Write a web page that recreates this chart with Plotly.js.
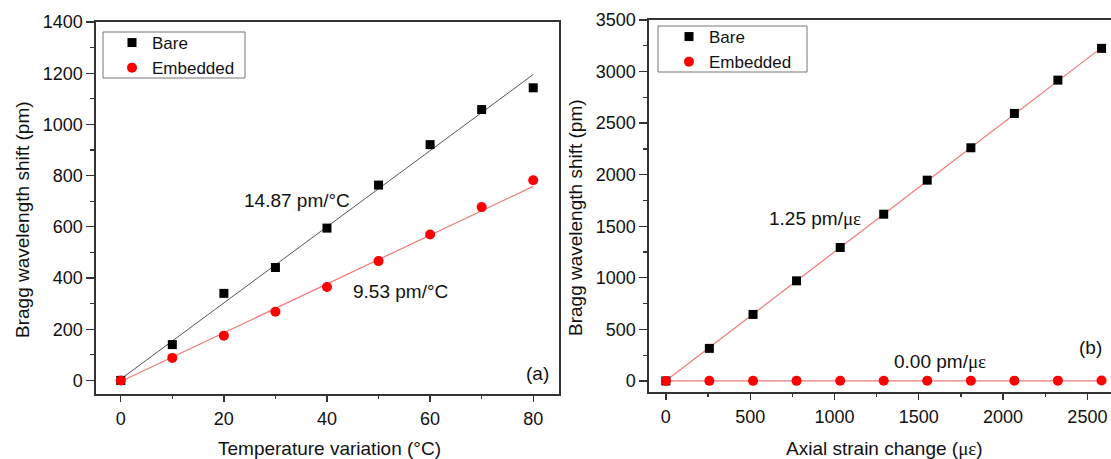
<!DOCTYPE html>
<html>
<head>
<meta charset="utf-8">
<script src="https://cdn.plot.ly/plotly-3.0.1.min.js"></script>
<style>html,body{margin:0;padding:0;background:#fff;}#chart{width:1111px;height:459px;}</style>
</head>
<body>
<div id="chart"></div>
<script>
// ---- Panel (a): temperature ----
const tempX = [0, 10, 20, 30, 40, 50, 60, 70, 80];
const tempBare = [0, 140, 340, 441, 595, 763, 921, 1058, 1143];
const tempEmbedded = [0, 88, 175, 268, 365, 466, 570, 677, 782];
const tempBareFit = {slope: 14.87, intercept: 5.3};
const tempEmbFit = {slope: 9.53, intercept: -4.4};

// ---- Panel (b): strain ----
const strainX = [0, 258, 517, 775, 1034, 1292, 1550, 1809, 2067, 2325, 2584];
const strainBare = [0, 316, 645, 971, 1294, 1617, 1947, 2261, 2594, 2917, 3225];
const strainEmbedded = [0, 1, 1, 1, 2, 2, 2, 3, 3, 3, 4];
const strainBareFit = {slope: 1.25, intercept: 2};
const strainEmbFit = {slope: 0.00, intercept: 1};

const names = ["Bare", "Embedded"];
const sens = ["14.87 pm/°C", "9.53 pm/°C", "1.25 pm/με", "0.00 pm/με"];

const GREEK = '<span style="font-family:\'Liberation Serif\',\'DejaVu Serif\',serif">με</span>';
function fmt(s){ return s.replace('με', GREEK); }

function fitLine(xs, fit){
  const x0 = xs[0], x1 = xs[xs.length-1];
  return {x:[x0,x1], y:[fit.slope*x0+fit.intercept, fit.slope*x1+fit.intercept]};
}

const FONT = "'Liberation Sans', Arial, sans-serif";
const lightRed = '#f07878';
const traces = [];

let f = fitLine(tempX, tempBareFit);
traces.push({x:f.x, y:f.y, mode:'lines', line:{color:'#555', width:1}, showlegend:false, xaxis:'x', yaxis:'y', hoverinfo:'skip'});
f = fitLine(tempX, tempEmbFit);
traces.push({x:f.x, y:f.y, mode:'lines', line:{color:lightRed, width:1.2}, showlegend:false, xaxis:'x', yaxis:'y', hoverinfo:'skip'});
traces.push({x:tempX, y:tempBare, mode:'markers', name:names[0], marker:{symbol:'square', size:9, color:'#000'}, xaxis:'x', yaxis:'y', legend:'legend'});
traces.push({x:tempX, y:tempEmbedded, mode:'markers', name:names[1], marker:{symbol:'circle', size:10, color:'#ff0000'}, xaxis:'x', yaxis:'y', legend:'legend'});

f = fitLine(strainX, strainBareFit);
traces.push({x:f.x, y:f.y, mode:'lines', line:{color:lightRed, width:1.2}, showlegend:false, xaxis:'x2', yaxis:'y2', hoverinfo:'skip'});
f = fitLine(strainX, strainEmbFit);
traces.push({x:f.x, y:f.y, mode:'lines', line:{color:lightRed, width:1.2}, showlegend:false, xaxis:'x2', yaxis:'y2', hoverinfo:'skip'});
traces.push({x:strainX, y:strainBare, mode:'markers', name:names[0], marker:{symbol:'square', size:9, color:'#000'}, xaxis:'x2', yaxis:'y2', legend:'legend2'});
traces.push({x:strainX, y:strainEmbedded, mode:'markers', name:names[1], marker:{symbol:'circle', size:10, color:'#ff0000'}, xaxis:'x2', yaxis:'y2', legend:'legend2'});

const W = 1111, H = 459;
const px = v => v / W;
const py = v => (H - v) / H;

const axCommon = {
  showgrid:false, zeroline:false, showline:true, linecolor:'#333', linewidth:1.6,
  ticks:'outside', tickcolor:'#333', tickwidth:1.3, ticklen:6,
  tickfont:{family:FONT, size:18, color:'#111'}
};

const legendCommon = {
  bgcolor:'rgba(255,255,255,0)', bordercolor:'#777', borderwidth:0,
  font:{family:FONT, size:17, color:'#111'}, xanchor:'left', yanchor:'top',
  tracegroupgap:0, itemsizing:'trace'
};

function ann(text, x, y, extra){
  return Object.assign({text:text, x:px(x), y:py(y), xref:'paper', yref:'paper', xanchor:'center', yanchor:'middle',
    showarrow:false, font:{family:FONT, size:19, color:'#111'}}, extra || {});
}

const layout = {
  width:W, height:H, margin:{l:0, r:0, t:0, b:0},
  paper_bgcolor:'#fff', plot_bgcolor:'#fff', showlegend:true,
  font:{family:FONT, color:'#111'},
  xaxis: Object.assign({}, axCommon, {domain:[px(96), px(559)], range:[-4.8, 85], dtick:20, tick0:0, mirror:true, anchor:'y', ticklabelstandoff:2,
    minor:{dtick:10, ticklen:3, ticks:'outside', tickcolor:'#333', tickwidth:1.2}}),
  yaxis: Object.assign({}, axCommon, {domain:[py(394), py(22)], range:[-53, 1400], dtick:200, tick0:0, mirror:true, anchor:'x', ticklen:8,
    minor:{dtick:100, ticklen:4, ticks:'outside', tickcolor:'#333', tickwidth:1.2}}),
  xaxis2: Object.assign({}, axCommon, {domain:[px(649), 1], range:[-100, 2640], dtick:500, tick0:0, mirror:true, anchor:'y2', ticklabelstandoff:2,
    minor:{dtick:250, ticklen:3, ticks:'outside', tickcolor:'#333', tickwidth:1.2}}),
  yaxis2: Object.assign({}, axCommon, {domain:[py(392), py(20)], range:[-107, 3500], dtick:500, tick0:0, mirror:false, anchor:'x2', ticklen:8,
    minor:{dtick:250, ticklen:4, ticks:'outside', tickcolor:'#333', tickwidth:1.2}}),
  legend: Object.assign({}, legendCommon, {x:px(112), y:py(25)}),
  legend2: Object.assign({}, legendCommon, {x:px(669), y:py(19)}),
  shapes: [
    {type:'rect', xref:'paper', yref:'paper', x0:px(103), x1:px(245), y0:py(78), y1:py(32), line:{color:'#777', width:1}},
    {type:'rect', xref:'paper', yref:'paper', x0:px(658), x1:px(807), y0:py(72), y1:py(26), line:{color:'#777', width:1}}
  ],
  annotations: [
    ann('Bragg wavelength shift (pm)', 22, 220, {textangle:-90}),
    ann('Bragg wavelength shift (pm)', 575, 218, {textangle:-90}),
    ann('Temperature variation (°C)', 329, 448),
    ann(fmt('Axial strain change (με)'), 884, 448),
    ann(sens[0], 297, 200),
    ann(fmt(sens[1]), 401, 291),
    ann(fmt(sens[2]), 815, 218),
    ann(fmt(sens[3]), 940, 362),
    ann('(a)', 537, 373),
    ann('(b)', 1090, 347)
  ]
};

Plotly.newPlot('chart', traces, layout, {staticPlot:true, displayModeBar:false});
</script>
</body>
</html>
